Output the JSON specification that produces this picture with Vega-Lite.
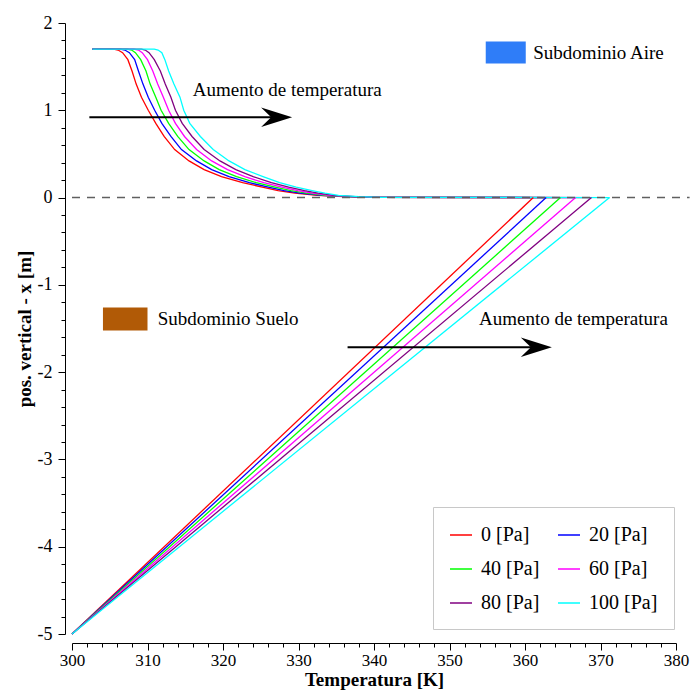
{
  "$schema": "https://vega.github.io/schema/vega-lite/v6.json",
  "width": 604,
  "height": 611,
  "autosize": {"type": "none"},
  "padding": {"left": 72, "top": 23, "right": 14, "bottom": 60},
  "background": "white",
  "config": {
    "view": {"stroke": null},
    "font": "Liberation Serif",
    "style": {
      "guide-label": {"font": "Liberation Serif", "fontSize": 17, "fill": "black"},
      "guide-title": {"font": "Liberation Serif", "fontSize": 19, "fontWeight": "bold", "fill": "black"}
    },
    "axis": {
      "grid": false,
      "domainColor": "black",
      "domainWidth": 1,
      "tickColor": "black",
      "tickWidth": 1,
      "labelColor": "black",
      "labelFont": "Liberation Serif",
      "labelFontSize": 17,
      "labelFlush": false,
      "labelOverlap": false,
      "labelBound": false,
      "titleFont": "Liberation Serif",
      "titleFontSize": 19,
      "titleFontWeight": "bold",
      "titleColor": "black"
    }
  },
  "datasets": {
    "perfiles": [
      {"tramo": "aire", "z": 1.7, "p0": 302.7, "p20": 302.7, "p40": 302.7, "p60": 302.7, "p80": 302.7, "p100": 302.7},
      {"tramo": "aire", "z": 1.7, "p0": 305.5, "p20": 306.4, "p40": 307.3, "p60": 308.2, "p80": 309.2, "p100": 310.9},
      {"tramo": "aire", "z": 1.69, "p0": 306.1, "p20": 307.0, "p40": 307.9, "p60": 308.8, "p80": 309.7, "p100": 311.4},
      {"tramo": "aire", "z": 1.66, "p0": 306.7, "p20": 307.6, "p40": 308.4, "p60": 309.3, "p80": 310.2, "p100": 311.9},
      {"tramo": "aire", "z": 1.58, "p0": 307.4, "p20": 308.3, "p40": 309.1, "p60": 310.0, "p80": 310.9, "p100": 312.3},
      {"tramo": "aire", "z": 1.45, "p0": 307.95, "p20": 308.8, "p40": 309.8, "p60": 310.7, "p80": 311.7, "p100": 312.8},
      {"tramo": "aire", "z": 1.3, "p0": 308.5, "p20": 309.4, "p40": 310.35, "p60": 311.35, "p80": 312.35, "p100": 313.5},
      {"tramo": "aire", "z": 1.15, "p0": 309.2, "p20": 310.1, "p40": 311.1, "p60": 312.1, "p80": 313.1, "p100": 314.3},
      {"tramo": "aire", "z": 1.0, "p0": 310.1, "p20": 310.95, "p40": 311.8, "p60": 312.8, "p80": 313.7, "p100": 314.8},
      {"tramo": "aire", "z": 0.85, "p0": 311.1, "p20": 311.9, "p40": 312.8, "p60": 313.7, "p80": 314.6, "p100": 315.6},
      {"tramo": "aire", "z": 0.7, "p0": 312.2, "p20": 313.1, "p40": 314.0, "p60": 314.9, "p80": 315.9, "p100": 317.0},
      {"tramo": "aire", "z": 0.55, "p0": 313.6, "p20": 314.5, "p40": 315.5, "p60": 316.5, "p80": 317.5, "p100": 318.7},
      {"tramo": "aire", "z": 0.42, "p0": 315.5, "p20": 316.5, "p40": 317.5, "p60": 318.5, "p80": 319.6, "p100": 320.8},
      {"tramo": "aire", "z": 0.32, "p0": 317.5, "p20": 318.5, "p40": 319.5, "p60": 320.6, "p80": 321.7, "p100": 322.9},
      {"tramo": "aire", "z": 0.24, "p0": 319.8, "p20": 320.8, "p40": 321.8, "p60": 322.9, "p80": 324.0, "p100": 325.3},
      {"tramo": "aire", "z": 0.17, "p0": 322.6, "p20": 323.5, "p40": 324.4, "p60": 325.4, "p80": 326.4, "p100": 327.5},
      {"tramo": "aire", "z": 0.12, "p0": 325.2, "p20": 326.0, "p40": 326.9, "p60": 327.8, "p80": 328.7, "p100": 329.7},
      {"tramo": "aire", "z": 0.08, "p0": 327.3, "p20": 328.1, "p40": 329.0, "p60": 329.9, "p80": 330.8, "p100": 331.8},
      {"tramo": "aire", "z": 0.05, "p0": 329.5, "p20": 330.2, "p40": 331.0, "p60": 331.8, "p80": 332.6, "p100": 333.5},
      {"tramo": "aire", "z": 0.025, "p0": 332.5, "p20": 333.0, "p40": 333.5, "p60": 334.1, "p80": 334.7, "p100": 335.3},
      {"tramo": "aire", "z": 0.01, "p0": 336.0, "p20": 336.4, "p40": 336.7, "p60": 337.1, "p80": 337.5, "p100": 338.0},
      {"tramo": "aire", "z": 0.003, "p0": 340.0, "p20": 340.2, "p40": 340.4, "p60": 340.6, "p80": 340.8, "p100": 341.0},
      {"tramo": "aire", "z": 0, "p0": 361.1, "p20": 362.8, "p40": 364.7, "p60": 366.7, "p80": 368.8, "p100": 371.2},
      {"tramo": "suelo", "z": -5, "p0": 300, "p20": 300, "p40": 300, "p60": 300, "p80": 300, "p100": 300},
      {"tramo": "suelo", "z": 0, "p0": 361.1, "p20": 362.8, "p40": 364.7, "p60": 366.7, "p80": 368.8, "p100": 371.2}
    ],
    "interfaz": [{"T": 300, "T2": 381.8, "z": 0}],
    "flechas": [
      {"T": 302.3, "T2": 327.1, "z": 0.92},
      {"T": 336.5, "T2": 361.5, "z": -1.715}
    ],
    "textos": [
      {"T": 316.0, "z": 1.168, "t": "Aumento de temperatura"},
      {"T": 353.9, "z": -1.455, "t": "Aumento de temperatura"},
      {"T": 361.1, "z": 1.592, "t": "Subdominio Aire"},
      {"T": 311.35, "z": -1.455, "t": "Subdominio Suelo"}
    ],
    "muestras": [
      {"k": "Aire", "T": 354.8, "T2": 360.1, "z": 1.787, "z2": 1.535},
      {"k": "Suelo", "T": 304.1, "T2": 310.0, "z": -1.26, "z2": -1.523}
    ]
  },
  "layer": [
    {
      "data": {"name": "perfiles"},
      "transform": [
        {"fold": ["p0", "p20", "p40", "p60", "p80", "p100"], "as": ["presion", "T"]}
      ],
      "mark": {"type": "line", "strokeWidth": 1.3},
      "encoding": {
        "x": {
          "field": "T", "type": "quantitative",
          "scale": {"domain": [300, 380], "nice": false, "zero": false},
          "axis": {
            "title": "Temperatura [K]",
            "offset": 9,
            "tickCount": 100,
            "values": [300,302,304,306,308,310,312,314,316,318,320,322,324,326,328,330,332,334,336,338,340,342,344,346,348,350,352,354,356,358,360,362,364,366,368,370,372,374,376,378,380],
            "labelExpr": "datum.value % 10 === 0 ? '' + datum.value : ''",
            "tickSize": {"condition": {"test": "datum.value % 10 === 0", "value": 7}, "value": 4},
            "labelFont": "Liberation Serif",
            "labelFontSize": 17,
            "labelOverlap": false,
            "labelBound": false,
            "labelFlush": false,
            "labelPadding": 2,
            "titlePadding": 2
          }
        },
        "y": {
          "field": "z", "type": "quantitative",
          "scale": {"domain": [-5, 2], "nice": false, "zero": false},
          "axis": {
            "title": "pos. vertical - x [m]",
            "offset": 7,
            "tickCount": 100,
            "values": [-5,-4.8,-4.6,-4.4,-4.2,-4,-3.8,-3.6,-3.4,-3.2,-3,-2.8,-2.6,-2.4,-2.2,-2,-1.8,-1.6,-1.4,-1.2,-1,-0.8,-0.6,-0.4,-0.2,0,0.2,0.4,0.6,0.8,1,1.2,1.4,1.6,1.8,2],
            "labelExpr": "abs(datum.value - round(datum.value)) < 0.001 ? '' + round(datum.value) : ''",
            "tickSize": {"condition": {"test": "abs(datum.value - round(datum.value)) < 0.001", "value": 7}, "value": 4},
            "labelFont": "Liberation Serif",
            "labelFontSize": 18,
            "labelOverlap": false,
            "labelBound": false,
            "labelFlush": false,
            "labelPadding": 6,
            "titlePadding": 3
          }
        },
        "color": {
          "field": "presion", "type": "nominal",
          "scale": {
            "domain": ["p0", "p40", "p80", "p20", "p60", "p100"],
            "range": ["#ff0000", "#00ff00", "#800080", "#0000ff", "#ff00ff", "#00ffff"]
          },
          "legend": {
            "title": null,
            "orient": "none",
            "legendX": 361,
            "legendY": 484,
            "columns": 2,
            "symbolType": "stroke",
            "symbolSize": 484,
            "symbolStrokeWidth": 1.5,
            "labelFont": "Liberation Serif",
            "labelFontSize": 20,
            "labelColor": "black",
            "labelOffset": 8,
            "labelLimit": 200,
            "labelExpr": "replace(datum.label, 'p', '') + ' [Pa]'",
            "padding": 16,
            "rowPadding": 12,
            "columnPadding": 15,
            "strokeColor": "#c8c8c8",
            "fillColor": "white",
            "cornerRadius": 0
          }
        },
        "detail": {"field": "tramo", "type": "nominal"},
        "order": {"field": "T", "type": "quantitative"}
      }
    },
    {
      "data": {"name": "interfaz"},
      "mark": {"type": "rule", "color": "#606060", "strokeWidth": 1.5, "strokeDash": [8, 7]},
      "encoding": {
        "x": {"field": "T", "type": "quantitative", "title": "Temperatura [K]"},
        "x2": {"field": "T2"},
        "y": {"field": "z", "type": "quantitative", "title": "pos. vertical - x [m]"}
      }
    },
    {
      "data": {"name": "muestras"},
      "mark": {"type": "rect"},
      "encoding": {
        "x": {"field": "T", "type": "quantitative", "title": "Temperatura [K]"},
        "x2": {"field": "T2"},
        "y": {"field": "z", "type": "quantitative", "title": "pos. vertical - x [m]"},
        "y2": {"field": "z2"},
        "fill": {
          "field": "k", "type": "nominal",
          "scale": {"domain": ["Aire", "Suelo"], "range": ["#2f7df8", "#b15a06"]},
          "legend": null
        }
      }
    },
    {
      "data": {"name": "flechas"},
      "mark": {"type": "rule", "color": "black", "strokeWidth": 2},
      "encoding": {
        "x": {"field": "T", "type": "quantitative", "title": "Temperatura [K]"},
        "x2": {"field": "T2"},
        "y": {"field": "z", "type": "quantitative", "title": "pos. vertical - x [m]"}
      }
    },
    {
      "data": {"name": "flechas"},
      "mark": {
        "type": "point",
        "shape": "M 1 0 L -1 -0.63 L -0.35 0 L -1 0.63 Z",
        "size": 961,
        "filled": true,
        "color": "black",
        "opacity": 1,
        "strokeWidth": 0
      },
      "encoding": {
        "x": {"field": "T2", "type": "quantitative", "title": "Temperatura [K]"},
        "y": {"field": "z", "type": "quantitative", "title": "pos. vertical - x [m]"}
      }
    },
    {
      "data": {"name": "textos"},
      "mark": {"type": "text", "font": "Liberation Serif", "fontSize": 19, "align": "left", "baseline": "alphabetic", "color": "black"},
      "encoding": {
        "x": {"field": "T", "type": "quantitative", "title": "Temperatura [K]"},
        "y": {"field": "z", "type": "quantitative", "title": "pos. vertical - x [m]"},
        "text": {"field": "t", "type": "nominal"}
      }
    }
  ]
}
